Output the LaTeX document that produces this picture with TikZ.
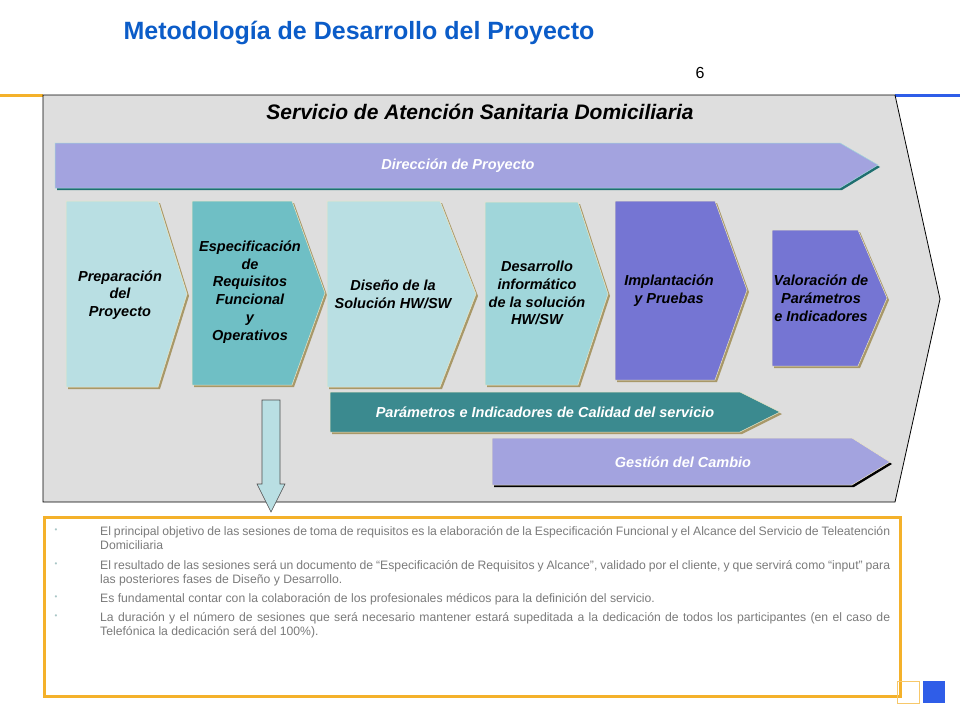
\documentclass[tikz,border=0pt]{standalone}
\usepackage{fontspec}
\setmainfont{Liberation Sans}
\usetikzlibrary{positioning}
\definecolor{cTitle}{HTML}{0B5CC8}
\definecolor{cBack}{HTML}{DEDEDE}
\definecolor{cLav}{HTML}{A3A3DF}
\definecolor{cPale}{HTML}{B9DFE3}
\definecolor{cTeal}{HTML}{6FBFC5}
\definecolor{cAqua}{HTML}{A0D6DA}
\definecolor{cViolet}{HTML}{7575D3}
\definecolor{cDeep}{HTML}{3B8A8F}
\definecolor{cTan}{HTML}{A89868}
\definecolor{cRim}{HTML}{EDE6C5}
\definecolor{cDusk}{HTML}{1F6F70}
\definecolor{cOrange}{HTML}{F4B12A}
\definecolor{cBlue}{HTML}{2F5DE8}
\definecolor{cNote}{HTML}{7A7A7A}
\definecolor{cDot}{HTML}{A9C6C6}
\tikzset{
  phase/.style ={draw=cRim,line width=0.5pt},
  drop/.style  ={fill=cTan,shift={(2,2)}},
  plbl/.style  ={font=\bfseries\itshape\fontsize{14.5}{17.8}\selectfont,align=center,text=black},
  blbl/.style  ={font=\bfseries\itshape\fontsize{14.5}{16}\selectfont,text=white},
  note/.style  ={anchor=north west,text width=790pt,align=justify,inner sep=0pt,
                 font=\fontsize{12.2}{14}\selectfont,text=cNote},
  dot/.style   ={inner sep=0pt,font=\fontsize{8}{8}\selectfont,text=cDot},
}

\begin{document}
\begin{tikzpicture}[x=1pt,y=-1pt]
\useasboundingbox (0,0) rectangle (960,720);
% header
\node[font=\bfseries\fontsize{25}{28}\selectfont,text=cTitle] (title) at (359,33)
  {Metodología de Desarrollo del Proyecto};
\node[font=\fontsize{16}{18}\selectfont] (page) at (700,73) {6};
\draw[cOrange,line width=3pt] (0,95) -- (43,95);
\draw[cBlue,line width=3pt] (895,95) -- (960,95);
% frame
\draw[fill=cBack,line width=0.8pt] (43,95) -- (895,95) -- (940,299) -- (895,502)
  -- (43,502) -- cycle;
\node[font=\bfseries\itshape\fontsize{21}{23}\selectfont] (serv) at (480,112)
  {Servicio de Atención Sanitaria Domiciliaria};
% banners
\fill[cDusk,shift={(2,2)}] (55,143) -- (840,143) -- (878,165) -- (840,188) -- (55,188) -- cycle;
\draw[fill=cLav,draw=cAqua,line width=0.5pt] (55,143) -- (840,143) -- (878,165) -- (840,188)
  -- (55,188) -- cycle;
\node[blbl] (dir) at (458,166) {Dirección de Proyecto};
% phases
\fill[drop] (66,201) -- (158,201) -- (187,294) -- (158,387) -- (66,387) -- cycle;
\draw[phase,fill=cPale] (66,201) -- (158,201) -- (187,294) -- (158,387) -- (66,387) -- cycle;
\node[plbl] (prep) at (120,295) {Preparación\\del\\Proyecto};
\fill[drop] (192,201) -- (292,201) -- (325,293) -- (292,385) -- (192,385) -- cycle;
\draw[phase,fill=cTeal] (192,201) -- (292,201) -- (325,293) -- (292,385) -- (192,385) -- cycle;
\node[plbl] (spec) at (250,292) {Especificación\\de\\Requisitos\\Funcional\\y\\Operativos};
\fill[drop] (327,201) -- (440,201) -- (476,294) -- (440,387) -- (327,387) -- cycle;
\draw[phase,fill=cPale] (327,201) -- (440,201) -- (476,294) -- (440,387) -- (327,387) -- cycle;
\node[plbl] (dis) at (393,294) {Diseño de la\\Solución HW/SW};
\fill[drop] (485,202) -- (578,202) -- (608,294) -- (578,385) -- (485,385) -- cycle;
\draw[phase,fill=cAqua] (485,202) -- (578,202) -- (608,294) -- (578,385) -- (485,385) -- cycle;
\node[plbl] (des) at (537,293) {Desarrollo\\informático\\de la solución\\HW/SW};
\fill[drop] (615,201) -- (715,201) -- (747,290) -- (715,380) -- (615,380) -- cycle;
\draw[phase,fill=cViolet] (615,201) -- (715,201) -- (747,290) -- (715,380) -- (615,380) -- cycle;
\node[plbl] (imp) at (669,291) {Implantación\\y Pruebas};
\fill[drop] (772,230) -- (858,230) -- (887,298) -- (858,366) -- (772,366) -- cycle;
\draw[phase,fill=cViolet] (772,230) -- (858,230) -- (887,298) -- (858,366) -- (772,366) -- cycle;
\node[plbl] (val) at (821,298) {Valoración de\\Parámetros\\e Indicadores};
% lower banners
\fill[drop] (330,392) -- (740,392) -- (780,412) -- (740,432) -- (330,432) -- cycle;
\draw[phase,fill=cDeep] (330,392) -- (740,392) -- (780,412) -- (740,432) -- (330,432) -- cycle;
\node[blbl] (cal) at (545,412) {Parámetros e Indicadores de Calidad del servicio};
\fill[black,shift={(2,2)}] (492,438) -- (852,438) -- (890,462) -- (852,485) -- (492,485) -- cycle;
\draw[phase,fill=cLav] (492,438) -- (852,438) -- (890,462) -- (852,485) -- (492,485) -- cycle;
\node[blbl] (cam) at (683,462) {Gestión del Cambio};
% arrow down to the notes
\draw[fill=cPale,draw=black!70,line width=0.6pt] (262,400) -- (280,400) -- (280,484)
  -- (285,484) -- (271,512) -- (257,484) -- (262,484) -- cycle;
% notes
\draw[cOrange,line width=3pt] (44,517) rectangle (900,696);
\node[dot] (d1) at (56,531) {\textbullet};
\node[note] (n1) at (100,526) {El principal objetivo de las sesiones de toma de requisitos es la elaboración de la Especificación Funcional y el Alcance del Servicio de Teleatención Domiciliaria};
\node[dot] (d2) at (56,565) {\textbullet};
\node[note] (n2) at (100,560) {El resultado de las sesiones será un documento de “Especificación de Requisitos y Alcance”, validado por el cliente, y que servirá como “input” para las posteriores fases de Diseño y Desarrollo.};
\node[dot] (d3) at (56,598) {\textbullet};
\node[note] (n3) at (100,593) {Es fundamental contar con la colaboración de los profesionales médicos para la definición del servicio.};
\node[dot] (d4) at (56,617) {\textbullet};
\node[note] (n4) at (100,612) {La duración y el número de sesiones que será necesario mantener estará supeditada a la dedicación de todos los participantes (en el caso de Telefónica la dedicación será del 100\%).};
% corner marks
\draw[cOrange!70,line width=0.8pt] (897,681) rectangle (919,703);
\fill[cBlue] (923,681) rectangle (945,703);
\end{tikzpicture}
\end{document}
